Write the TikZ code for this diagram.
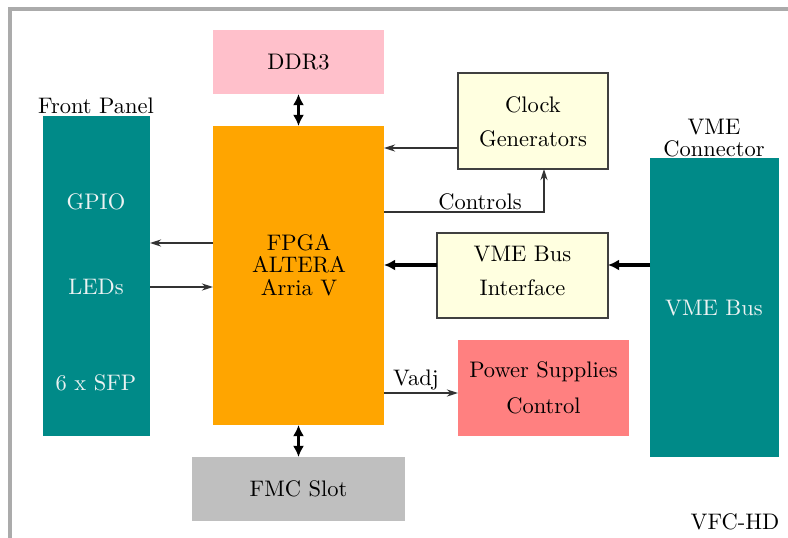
\documentclass[tikz,border=0pt]{standalone}
\usetikzlibrary{arrows.meta}
\definecolor{tealc}{RGB}{0,138,136}
\definecolor{ddrpink}{RGB}{255,192,203}
\definecolor{fpgaorange}{RGB}{255,165,0}
\definecolor{lyellow}{RGB}{255,255,224}
\definecolor{psred}{RGB}{255,128,128}
\definecolor{fmcgray}{RGB}{191,191,191}
\definecolor{lighttxt}{RGB}{236,242,242}
\newcommand{\pxu}{0.445pt}
\begin{document}
\begin{tikzpicture}[x=0.445pt,y=-0.445pt,
  blk/.style={inner sep=0pt, outer sep=0pt, draw=none},
  ybox/.style={inner sep=0pt, outer sep=0pt, fill=lyellow, draw=black!75, line width=0.6pt},
  lbl/.style={inner sep=0pt, align=center},
  thinarr/.style={draw=black!80, line width=0.6pt, -{Stealth[length=5pt,width=3.2pt]}},
  thickarr/.style={draw=black, line width=1.6pt, -{Latex[length=5pt,width=5pt]}},
  dblarr/.style={draw=black, line width=1.6pt, {Latex[length=5pt,width=5pt]}-{Latex[length=5pt,width=5pt]}}]
\useasboundingbox (0,0) rectangle (788,537);
\clip (0,0) rectangle (788,537);
\draw[black!33, line width=1.4pt] (10,560) |- (810,9);

\node[blk, fill=ddrpink, minimum width=171*\pxu, minimum height=64*\pxu] (ddr) at (298.5,62) {DDR3};
\node[blk, fill=fpgaorange, minimum width=171*\pxu, minimum height=299*\pxu] (fpga) at (298.5,275.5) {};
\node[lbl] (fpgatxt) at (299,265) {FPGA\\[-2pt]ALTERA\\[-2pt]Arria V};
\node[blk, fill=tealc, minimum width=107*\pxu, minimum height=320*\pxu] (fp) at (96.5,276) {};
\node[lbl] (fplbl) at (96,106) {Front Panel};
\node[lbl, text=lighttxt] (gpio) at (96,202) {GPIO};
\node[lbl, text=lighttxt] (leds) at (96,287) {LEDs};
\node[lbl, text=lighttxt] (sfp) at (96,383) {6 x SFP};

\node[ybox, minimum width=150*\pxu, minimum height=96*\pxu] (clk) at (533,121) {};
\node[lbl] (clktxt) at (533,122) {Clock\\[3pt]Generators};
\node[ybox, minimum width=171*\pxu, minimum height=85*\pxu] (vmei) at (522.5,275.5) {};
\node[lbl] (vmeitxt) at (522.5,271) {VME Bus\\[3pt]Interface};
\node[blk, fill=psred, minimum width=171*\pxu, minimum height=96*\pxu] (ps) at (543.5,388) {};
\node[lbl] (pstxt) at (543.5,388) {Power Supplies\\[4pt]Control};
\node[blk, fill=tealc, minimum width=129*\pxu, minimum height=299*\pxu] (vme) at (714.5,307.5) {};
\node[lbl, text=lighttxt] (vmetxt) at (714,308) {VME Bus};
\node[lbl] (vmelbl) at (714,138) {VME\\[-2pt]Connector};
\node[blk, fill=fmcgray, minimum width=213*\pxu, minimum height=64*\pxu] (fmc) at (298.5,489) {FMC Slot};
\node[lbl] (vfc) at (735,522) {VFC-HD};

\draw[dblarr] (ddr.south) -- (fpga.north);
\draw[dblarr] (fpga.south) -- (fmc.north);
\draw[thinarr] (clk.west |- 0,148) -- (fpga.east |- 0,148);
\draw[thinarr] (fpga.east |- 0,212) -| (544,0 |- clk.south);
\node[lbl, anchor=south] (ctrl) at (480,210) {Controls};
\draw[thinarr] (fpga.west |- 0,243) -- (fp.east |- 0,243);
\draw[thinarr] (fp.east |- 0,287) -- (fpga.west |- 0,287);
\draw[thickarr] (vmei.west |- 0,265) -- (fpga.east |- 0,265);
\draw[thickarr] (vme.west |- 0,265) -- (vmei.east |- 0,265);
\draw[thinarr] (fpga.east |- 0,393) -- (ps.west |- 0,393);
\node[lbl, anchor=south] (vadj) at (416,391) {Vadj};
\end{tikzpicture}
\end{document}
